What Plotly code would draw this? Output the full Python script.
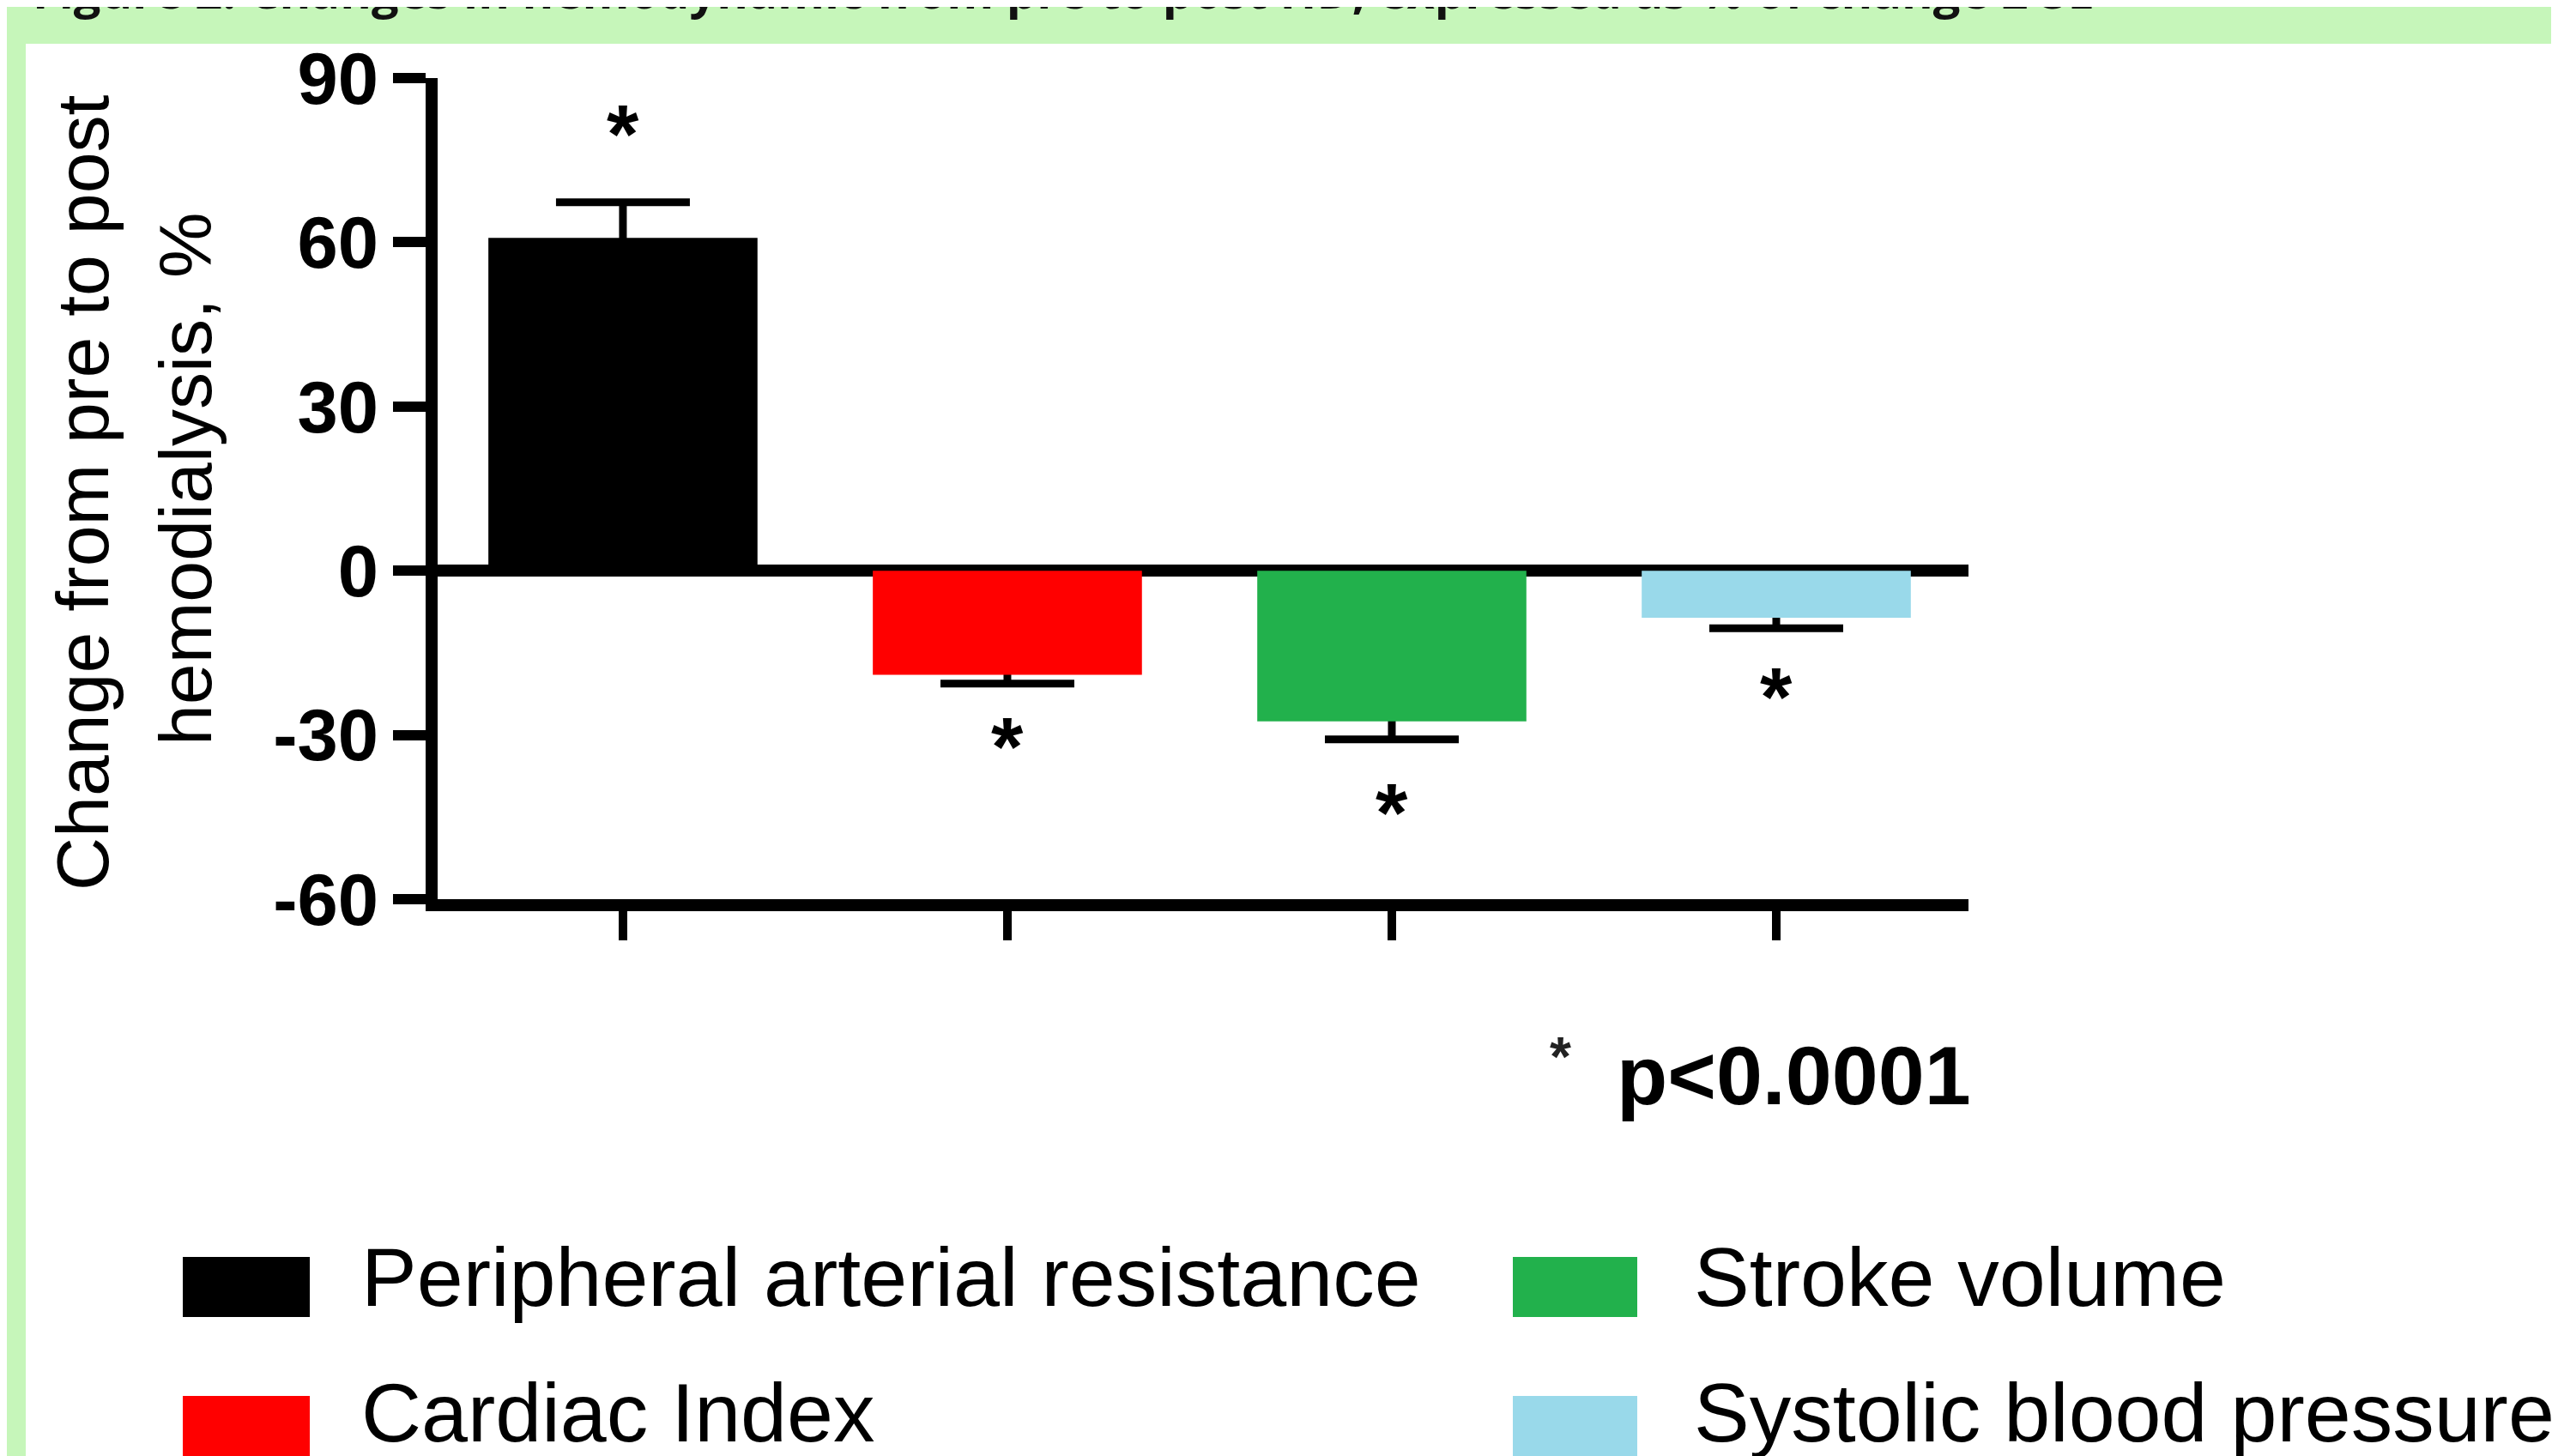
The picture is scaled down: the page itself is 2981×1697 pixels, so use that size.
import plotly.graph_objects as go

# ---------------- data ----------------
categories = ["Peripheral arterial resistance", "Cardiac Index", "Stroke volume", "Systolic blood pressure"]
values = [60.8, -19.0, -27.5, -8.6]
errors = [6.5, 1.6, 3.3, 1.9]
colors = ["#000000", "#ff0000", "#22b14c", "#99d9ea"]
star_y = [81.5, -30.5, -42.5, -21.3]
y_ticks = [-60, -30, 0, 30, 60, 90]
y_ticktext = ["-60", "-30", "0", "30", "60", "90"]
legend_order = [[0, 2], [1, 3]]  # rows of category indices
title_text = "Figure 2: Changes in hemodynamic from pre to post HD, expressed as % of change ± SE"
ytitle_lines = ["Change from pre to post", "hemodialysis, %"]
pnote = "p<0.0001"

# ---------------- layout geometry ----------------
W, H = 2981, 1697
L, R, T, B = 502, 695, 83, 657
PW, PH = W - L - R, H - T - B
FONT = "Liberation Sans, Arial, sans-serif"
GREEN_BG = "#c6f6ba"


def px(x):
    return (x - L) / PW


def py(y):
    return (T + PH - y) / PH


fig = go.Figure()

# error bars (drawn beneath the bars, symmetric SEM)
fig.add_trace(go.Bar(
    x=categories, y=values, width=0.7,
    marker=dict(color="rgba(0,0,0,0)", line=dict(width=0)),
    error_y=dict(type="data", array=errors, symmetric=True, color="black",
                 thickness=9, width=78),
    showlegend=False, hoverinfo="skip",
))
# bars
fig.add_trace(go.Bar(
    x=categories, y=values, width=0.7,
    marker=dict(color=colors, line=dict(width=0)),
    showlegend=False,
))

annotations = []
# significance asterisks
for c, sy in zip(categories, star_y):
    annotations.append(dict(x=c, y=sy, xref="x", yref="y", text="*", showarrow=False,
                            font=dict(family=FONT, size=96, color="black", weight="bold"),
                            xanchor="center", yanchor="middle", yshift=-10))

# y-axis title (two lines)
for txt, xc, yc in zip(ytitle_lines, [88, 208], [566, 551]):
    annotations.append(dict(x=px(xc), y=py(yc), xref="paper", yref="paper", text=txt,
                            textangle=-90, showarrow=False,
                            font=dict(family=FONT, size=86, color="black"),
                            xanchor="center", yanchor="middle"))

# p-value note
annotations.append(dict(x=px(2291), y=py(1245), xref="paper", yref="paper", text=pnote,
                        showarrow=False, font=dict(family=FONT, size=97, color="black", weight="bold"),
                        xanchor="right", yanchor="middle"))
annotations.append(dict(x=px(1810), y=py(1224), xref="paper", yref="paper", text="*",
                        showarrow=False, font=dict(family=FONT, size=64, color="#222222", weight="bold"),
                        xanchor="center", yanchor="middle"))

# figure caption (cut off at the top edge as in the original)
annotations.append(dict(x=px(28), y=py(20), xref="paper", yref="paper", text="<b>" + title_text + "</b>",
                        showarrow=False, font=dict(family="Open Sans, sans-serif", size=56, color="#111111"),
                        xanchor="left", yanchor="bottom"))

shapes = []
# white panel on green background
shapes.append(dict(type="rect", xref="paper", yref="paper", x0=px(22), x1=px(W + 20),
                   y0=py(H + 20), y1=py(43), fillcolor="white", line=dict(width=0), layer="below"))

# manual legend
sw_x = [(205, 353), (1755, 1900)]
txt_x = [411, 1964]
row_y = [1492, 1654]
txt_y = [1480, 1638]
for r, row in enumerate(legend_order):
    for cidx, i in enumerate(row):
        x0, x1 = sw_x[cidx]
        yc = row_y[r]
        shapes.append(dict(type="rect", xref="paper", yref="paper", x0=px(x0), x1=px(x1),
                           y0=py(yc + 35), y1=py(yc - 35), fillcolor=colors[i], line=dict(width=0)))
        annotations.append(dict(x=px(txt_x[cidx]), y=py(txt_y[r]), xref="paper", yref="paper",
                                text=categories[i], showarrow=False,
                                font=dict(family=FONT, size=97, color="black"),
                                xanchor="left", yanchor="middle"))

fig.update_layout(
    width=W, height=H,
    margin=dict(l=L, r=R, t=T, b=B, autoexpand=False),
    paper_bgcolor=GREEN_BG, plot_bgcolor="white",
    barmode="overlay",
    annotations=annotations, shapes=shapes,
    showlegend=False,
    xaxis=dict(range=[-0.482, 3.5], showticklabels=False, ticks="outside", ticklen=34,
               tickwidth=10, tickcolor="black", showline=True, linewidth=14, linecolor="black",
               showgrid=False, zeroline=False, fixedrange=True),
    yaxis=dict(range=[-60, 90], tickvals=y_ticks, ticktext=y_ticktext, ticks="outside",
               ticklen=38, tickwidth=12,
               tickcolor="black", showline=True, linewidth=14, linecolor="black",
               showgrid=False, zeroline=True, zerolinewidth=14, zerolinecolor="black",
               tickfont=dict(family=FONT, size=85, color="black", weight="bold"),
               fixedrange=True),
)

fig.write_html("out.html")
